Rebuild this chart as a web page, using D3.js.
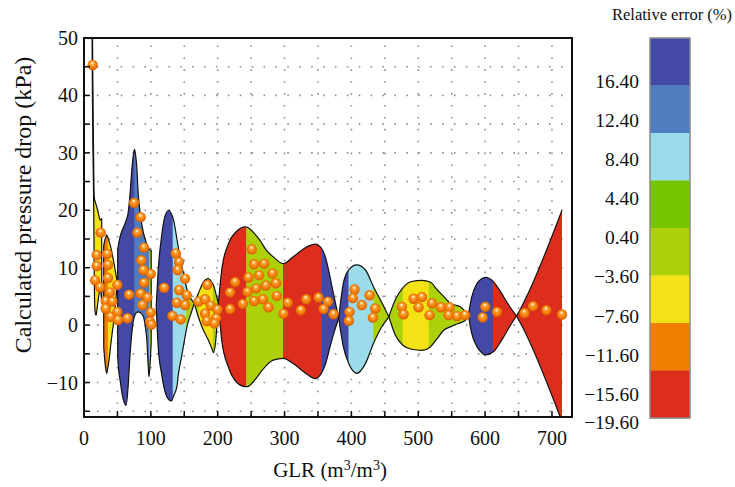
<!DOCTYPE html>
<html>
<head>
<meta charset="utf-8">
<script src="https://cdn.jsdelivr.net/npm/d3@7"></script>
<style>
  html, body { margin: 0; padding: 0; background: #fff; }
  svg { display: block; }
  text { font-family: "Liberation Serif", "Times New Roman", serif; fill: #111; }
</style>
</head>
<body>
<svg id="chart" width="735" height="487"></svg>
<script>
// ---- Relative error classes (top of the colour bar first) ----
const errorColors = ["#4349a4", "#4f7dc0", "#9adcea", "#76c500", "#acd10b", "#f5e216", "#f07f00", "#dd2d1d"];
const errorTickValues = [16.4, 12.4, 8.4, 4.4, 0.4, -3.6, -7.6, -11.6, -15.6, -19.6];
const errorTickLabels = ["16.40", "12.40", "8.40", "4.40", "0.40", "\u22123.60", "\u22127.60", "\u221211.60", "\u221215.60", "\u221219.60"];

// ---- Axis ticks ----
const xMajorTicks = [0, 100, 200, 300, 400, 500, 600, 700];
const xMinorTicks = [50, 100, 150, 200, 250, 300, 350, 400, 450, 500, 550, 600, 650, 700];
const yMajorTicks = [-10, 0, 10, 20, 30, 40, 50];
const yMinorTicks = [-15, -10, -5, 0, 5, 10, 15, 20, 25, 30, 35, 40, 45];

// ---- Error envelope pieces: [GLR, upper, lower] (kPa) ----
const pieceA = [[12, 58, 52], [12.6, 52, 40], [13.3, 42, 31], [14.2, 31, 24], [15, 23.5, 14], [15.7, 22, 5],
  [16.7, 21.5, 2.2], [18, 21, 1.7], [20, 20.2, 3.3], [22, 19.2, 5], [24, 18.3, 6.2], [25.5, 18.4, 5.5], [26.5, 18.6, 4]];
const pieceB = [[29.5, 13.8, -3.8], [31, 14.7, -6], [32.5, 15.3, -7.6], [34, 15.7, -8.4], [35.6, 15.3, -7.5],
  [37.4, 14.6, -6.1], [40, 13.6, -3.4], [42.5, 12.2, -1.1], [45, 10.7, 1.0], [47.5, 9, 4.2], [50, 7.3, 7.3]];
const pieceC = [[50.4, 13.1, -5.5], [52, 14.3, -8], [54, 15.4, -9.6], [57, 16.5, -12], [60, 17.3, -13.4],
  [63, 18.2, -14], [66, 19.5, -10.7], [69, 23, -4.9], [71.5, 27, -1.5], [74, 29.8, 0.9], [75.5, 30.6, 1.5],
  [77, 29.8, 2], [79, 27.5, 2.2], [81, 23, 2.3], [84, 19.5, 2.2], [89, 16, 1.45], [92, 14.8, -0.5],
  [94, 14, -2.6], [96, 13.5, -7], [97.2, 13.3, -9], [98.5, 13.1, -7.5], [100.5, 13, -3]];
const pieceD = [[108, 3.3, 3.3], [111, 9.6, -3.8], [116, 15.4, -8.4], [121, 18.9, -11.5], [127, 20, -13],
  [131, 19.3, -13.2], [134, 18.3, -12.3], [139, 15, -10.7], [141, 13.6, -8.7], [146, 10.3, -5.5],
  [149, 9, -3.5], [154, 6.2, -0.3], [156, 5.5, 0.6], [160, 4.6, 2], [165, 3.8, 3.8]];
const pieceE = [[165, 3.8, 3.8], [171, 5.5, 1.45], [178.6, 7.5, -0.9], [186, 8.1, -2.6], [192, 7.3, -4.3],
  [193.6, 7, -4.8], [197, 5.6, -2.8], [201, 3.8, 3.8]];
const pieceF = [[201, 3.8, 3.8], [206, 9.6, -2.6], [216, 14.2, -7.3], [228, 16.3, -9.9], [241, 17.1, -10.7],
  [245, 17.0, -10.7], [253, 16.2, -9.9], [263, 14.8, -8.4], [273, 13, -7], [283, 11.9, -6.1], [298, 10.7, -5.8],
  [313, 11.9, -6.7], [333, 13.6, -8.5], [346, 14.1, -9.3], [355, 13.4, -8.4], [362, 11.5, -6.5],
  [368, 8.4, -3.8], [374, 5, -1.3], [381, 1.2, 1.2]];
const pieceG = [[381, 1.2, 1.2], [388, 7.3, -3.8], [396, 9.6, -6.7], [408, 10.5, -8.4], [421, 9.6, -6.7],
  [433, 6.7, -3.2], [446, 3.8, -0.2], [456, 1.45, 1.45]];
const pieceH = [[456, 1.45, 1.45], [466, 4.5, -1.8], [477, 6.5, -3.5], [490, 7.6, -4.2], [505.5, 7.8, -4.4],
  [518, 7.5, -3.8], [528, 6.2, -2.4], [538, 5.0, -0.9], [548, 3.8, -0.3], [558, 3.4, 0.2], [563, 3.2, 0.4],
  [570, 2.4, 0.8], [575, 1.74, 1.74]];
const pieceI = [[575, 1.74, 1.74], [580, 4.9, -1.45], [588, 7.3, -3.8], [594, 8.0, -4.7], [600, 8.3, -5.2],
  [613, 7.5, -4.6], [620, 6.4, -3.5], [628, 4.9, -2.0], [637, 3.2, -0.2], [647, 1.6, 1.6]];
const pieceJ = [[647, 1.6, 1.6], [655, 3.3, -0.1], [715, 20, -16.8]];
const envelopePieces = [pieceA, pieceB, pieceC, pieceD, pieceE, pieceF, pieceG, pieceH, pieceI, pieceJ];

// ---- Colour strips along GLR: edges and the error class of each strip ----
const stripEdges = [0, 15, 27.5, 36, 50.2, 75.8, 98, 104, 133, 153, 172, 193, 201, 243, 298, 355, 396, 433, 477, 516, 575, 612, 730];
const stripClass = [0, 5, 6, 5, 0, 1, 4, 0, 2, 4, 5, 4, 7, 4, 7, 0, 2, 4, 5, 4, 0, 7];

// ---- Calculated pressure drop points ----
const pointGLR = [13, 25, 19, 34.9, 19, 35.9, 35.9, 16.5, 24, 38.9, 32.4, 42.4, 32.4, 39.9, 49.9, 49.9, 50.9,
  74.9, 84.8, 79.8, 89.8, 85.8, 88.8, 99.8, 89.8, 67.4, 84.8, 94.8, 87.3, 99.8, 64.9, 98.8, 100.8,
  120, 137.3, 142.2, 140.2, 151.2, 142.2, 153.7, 138.7, 151.2, 132.2, 144.7,
  171.1, 184.6, 181.1, 189.7, 199.6, 181.1, 197.6, 183.7, 195.1,
  226, 218.6, 218.6, 237.5,
  251, 254.5, 269.5, 281.9, 246, 262, 287, 244.5, 257.5, 272, 288.5, 254.5, 267.5, 276, 304.9, 298.4,
  332.3, 324.4, 350.8, 364.8, 358.3, 373.2,
  404.7, 402.2, 427.2, 415.7, 435.6, 397.2, 432.2, 396.2,
  475.5, 478, 493, 505.5, 500.5, 520.5, 517, 534, 547, 545.4, 558, 570,
  600.3, 596.3, 617.8, 659, 671.7, 691.6, 715];
const pointDrop = [45.3, 16.1, 12.2, 12.4, 10.3, 10.5, 8.2, 7.8, 6.6, 5.7, 4.2, 4.1, 2.9, 1.45, 7.0, 2.3, 0.9,
  21.3, 18.8, 16.1, 13.5, 11.3, 9.6, 8.9, 7.4, 5.3, 5.5, 4.8, 3.5, 2.2, 1.2, 0.6, 0.1,
  6.5, 12.5, 11.0, 9.6, 8.1, 6.1, 5.2, 3.9, 3.5, 1.6, 1.0,
  4.1, 7.0, 4.5, 3.4, 2.7, 2.0, 1.2, 0.7, 0.3,
  7.5, 5.7, 2.8, 3.7,
  13.2, 10.6, 10.7, 9.0, 8.3, 8.7, 7.3, 5.8, 6.4, 6.9, 5.1, 4.2, 4.5, 3.1, 3.9, 2.0,
  4.5, 2.6, 4.8, 4.1, 2.8, 1.9,
  6.2, 4.7, 5.2, 3.5, 2.9, 2.3, 1.3, 0.75,
  3.2, 1.9, 4.6, 4.9, 3.1, 3.8, 1.74, 3.1, 3.1, 1.74, 1.57, 1.74,
  3.2, 1.34, 2.3, 2.1, 3.3, 2.6, 1.85];

// ---- Layout ----
const plot = { left: 84, right: 572, top: 38, bottom: 417 };
const x = d3.scaleLinear().domain([0, 730]).range([plot.left, plot.right]);
const y = d3.scaleLinear().domain([-16, 50]).range([plot.bottom, plot.top]);

const svg = d3.select("#chart");
const defs = svg.append("defs");

defs.append("clipPath").attr("id", "plotClip")
  .append("rect").attr("x", plot.left).attr("y", plot.top)
  .attr("width", plot.right - plot.left).attr("height", plot.bottom - plot.top);

// sphere shading for the markers
const grad = defs.append("radialGradient").attr("id", "sphere")
  .attr("cx", 0.5).attr("cy", 0.5).attr("r", 0.55).attr("fx", 0.45).attr("fy", 0.28);
[[0, "#fffaf0"], [0.16, "#ffd79a"], [0.34, "#fb9c2c"], [0.7, "#f07a06"], [1, "#cc5200"]]
  .forEach(([o, c]) => grad.append("stop").attr("offset", o).attr("stop-color", c));

// ---- Dotted grid ----
const grid = svg.append("g").attr("stroke", "#8e8e8e").attr("stroke-width", 1.6)
  .attr("stroke-dasharray", "1.6,10.3");
grid.selectAll("line.h").data(yMinorTicks.filter(v => v > -16)).join("line")
  .attr("x1", plot.left + 1).attr("x2", plot.right)
  .attr("y1", d => y(d)).attr("y2", d => y(d));
grid.selectAll("line.v").data(xMinorTicks).join("line")
  .attr("y1", plot.bottom - 1).attr("y2", plot.top)
  .attr("x1", d => x(d)).attr("x2", d => x(d));

// ---- Error envelope ----
const area = d3.area().x(d => x(d[0])).y0(d => y(d[2])).y1(d => y(d[1])).curve(d3.curveMonotoneX);
const upper = d3.line().x(d => x(d[0])).y(d => y(d[1])).curve(d3.curveMonotoneX);
const lower = d3.line().x(d => x(d[0])).y(d => y(d[2])).curve(d3.curveMonotoneX);

const envClip = defs.append("clipPath").attr("id", "envClip");
envelopePieces.forEach(p => envClip.append("path").attr("d", area(p)));

const body = svg.append("g").attr("clip-path", "url(#plotClip)");
const strips = body.append("g").attr("clip-path", "url(#envClip)");
stripClass.forEach((c, i) => {
  strips.append("rect")
    .attr("x", x(stripEdges[i]) - 0.2)
    .attr("width", x(stripEdges[i + 1]) - x(stripEdges[i]) + 0.4)
    .attr("y", plot.top).attr("height", plot.bottom - plot.top)
    .attr("fill", errorColors[c]);
});

const outline = body.append("g").attr("fill", "none").attr("stroke", "#111").attr("stroke-width", 1.2);
envelopePieces.forEach((p, i) => {
  if (i < envelopePieces.length - 1) {
    outline.append("path").attr("d", area(p));
  } else {
    outline.append("path").attr("d", upper(p));
    outline.append("path").attr("d", lower(p));
  }
});

// ---- Points ----
body.append("g").selectAll("circle").data(pointGLR).join("circle")
  .attr("cx", d => x(d)).attr("cy", (d, i) => y(pointDrop[i]))
  .attr("r", 5.2).attr("fill", "url(#sphere)");

// ---- Frame, ticks and labels ----
const axes = svg.append("g").attr("stroke", "#111").attr("fill", "none");
axes.append("rect").attr("x", plot.left).attr("y", plot.top)
  .attr("width", plot.right - plot.left).attr("height", plot.bottom - plot.top)
  .attr("stroke-width", 2);
axes.selectAll("line.yt").data(yMinorTicks).join("line")
  .attr("x1", plot.left).attr("x2", plot.left + 6)
  .attr("y1", d => y(d)).attr("y2", d => y(d)).attr("stroke-width", 1.5);
axes.selectAll("line.xt").data(xMinorTicks).join("line")
  .attr("y1", plot.bottom).attr("y2", plot.bottom - 6)
  .attr("x1", d => x(d)).attr("x2", d => x(d)).attr("stroke-width", 1.5);

svg.append("g").selectAll("text").data(yMajorTicks).join("text")
  .attr("x", plot.left - 6).attr("y", d => y(d)).attr("dy", "0.35em")
  .attr("text-anchor", "end").attr("font-size", 20)
  .text(d => d < 0 ? "\u2212" + Math.abs(d) : d);

svg.append("g").selectAll("text").data(xMajorTicks).join("text")
  .attr("x", d => x(d)).attr("y", 445)
  .attr("text-anchor", "middle").attr("font-size", 20)
  .text(d => d);

// axis titles
svg.append("text")
  .attr("transform", `translate(31,205) rotate(-90)`)
  .attr("text-anchor", "middle").attr("font-size", 24)
  .text("Calculated pressure drop (kPa)");

const xt = svg.append("text").attr("x", (plot.left + plot.right) / 2 + 2).attr("y", 477)
  .attr("text-anchor", "middle").attr("font-size", 21);
xt.append("tspan").text("GLR (m");
xt.append("tspan").attr("baseline-shift", "super").attr("font-size", 14).text("3");
xt.append("tspan").text("/m");
xt.append("tspan").attr("baseline-shift", "super").attr("font-size", 14).text("3");
xt.append("tspan").text(")");

// ---- Colour bar ----
const bar = { left: 650, right: 690, top: 38, bottom: 418 };
const band = d3.scaleBand().domain(d3.range(errorColors.length)).range([bar.top, bar.bottom]);
svg.append("g").selectAll("rect").data(errorColors).join("rect")
  .attr("x", bar.left).attr("width", bar.right - bar.left)
  .attr("y", (d, i) => band(i)).attr("height", band.bandwidth() + 0.3)
  .attr("fill", d => d);
svg.append("rect").attr("x", bar.left).attr("y", bar.top)
  .attr("width", bar.right - bar.left).attr("height", bar.bottom - bar.top)
  .attr("fill", "none").attr("stroke", "#8a8a8a").attr("stroke-width", 1.5);

const barLabelY = d3.scaleLinear().domain([16.4, -15.6]).range([81, 394]);
svg.append("g").selectAll("text").data(errorTickValues).join("text")
  .attr("x", 639).attr("y", d => Math.min(barLabelY(d), 422)).attr("dy", "0.35em")
  .attr("text-anchor", "end").attr("font-size", 19.5)
  .text((d, i) => errorTickLabels[i]);

svg.append("text").attr("x", 672).attr("y", 20).attr("text-anchor", "middle")
  .attr("font-size", 16.5).text("Relative error (%)");
</script>
</body>
</html>
